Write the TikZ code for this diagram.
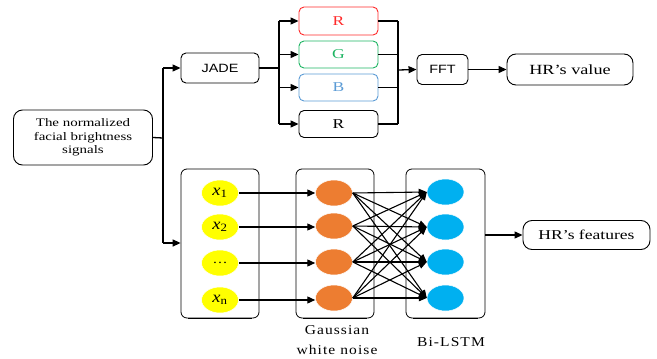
\documentclass[tikz,border=0pt]{standalone}
\usepackage{fontspec}
\setmainfont[FakeStretch=1.3]{Liberation Serif}
\newfontfamily\arialf[FakeStretch=1.2]{Liberation Sans}
\newfontfamily\spacedf[FakeStretch=1.15,LetterSpace=8]{Liberation Serif}
\newfontfamily\xfont[FakeStretch=1.15]{Liberation Serif}
\usetikzlibrary{arrows.meta,shapes.geometric}
\definecolor{cR}{HTML}{FF2A2A}
\definecolor{cG}{HTML}{1DB462}
\definecolor{cB}{HTML}{5B9BD5}
\definecolor{cY}{HTML}{FFFF00}
\definecolor{cO}{HTML}{ED7D31}
\definecolor{cC}{HTML}{00B0F0}
\tikzset{
  box/.style={draw, rounded corners=5pt, minimum height=28pt, inner sep=0pt, line width=0.9pt},
  panel/.style={draw, rounded corners=6pt, line width=0.8pt},
  arr/.style={-{Triangle[length=8pt,width=7pt]}, line width=1.3pt},
  ln/.style={line width=1.3pt},
  nd/.style={ellipse, draw=white, line width=0.5pt, minimum width=37pt, minimum height=26pt, inner sep=0pt},
  yel/.style={nd, fill=cY},
  org/.style={nd, fill=cO},
  cyn/.style={nd, fill=cC},
}
\begin{document}
\begin{tikzpicture}[x=1pt,y=-1pt]
\useasboundingbox (0,0) rectangle (657,359);
% left input
\node[box, rounded corners=9pt, minimum width=139pt, minimum height=55pt, align=center, font=\fontsize{11.5}{13.3}\selectfont] (inp) at (83,137.5) {The normalized\\facial brightness\\signals};
\coordinate (sp) at (163,138);
\coordinate (spt) at (163,68);
\coordinate (spb) at (163,243);
\draw[ln] (inp.east) -- (sp);
\draw[ln] (spt) -- (spb);
% JADE
\node[box, minimum width=78pt, minimum height=30pt, font=\arialf\fontsize{12}{14}\selectfont] (jade) at (220,68) {JADE};
\draw[arr] (spt) -- (jade.west);
% colour boxes
\node[box, draw=cR, text=cR, minimum width=79pt, minimum height=28pt, font=\fontsize{13.5}{15}\selectfont] (r1) at (338.5,21) {R};
\node[box, draw=cG, text=cG, minimum width=79pt, minimum height=27pt, font=\fontsize{13.5}{15}\selectfont] (g) at (338.5,54.5) {G};
\node[box, draw=cB, text=cB, minimum width=79pt, minimum height=27pt, font=\fontsize{13.5}{15}\selectfont] (b) at (338.5,87.5) {B};
\node[box, minimum width=79pt, minimum height=27pt, font=\fontsize{13.5}{15}\selectfont] (r2) at (338.5,124) {R};
\coordinate (jb) at (279,68);
\draw[ln] (jade.east) -- (jb);
\draw[ln] (279,21) -- (279,124);
\foreach \n in {r1,g,b,r2} {\draw[arr] (jb |- \n.west) -- (\n.west);}
\coordinate (mg) at (398,70);
\foreach \n in {r1,g,b,r2} {\draw[ln] (\n.east) -- (mg |- \n.east);}
\draw[ln] (398,21) -- (398,124);
% FFT
\node[box, minimum width=51pt, minimum height=30pt, font=\arialf\fontsize{12}{14}\selectfont] (fft) at (442.5,69.5) {FFT};
\draw[arr] (mg) -- (fft.west);
\node[box, rounded corners=9pt, minimum width=126pt, minimum height=31pt, font=\fontsize{14}{16}\selectfont] (hrv) at (570,69.5) {HR’s value};
\draw[arr] (fft.east) -- (hrv.west);
% panels
\node[panel, minimum width=78pt, minimum height=149pt] (p1) at (220,243.5) {};
\node[panel, minimum width=78pt, minimum height=149pt] (p2) at (335,243.5) {};
\node[panel, minimum width=79pt, minimum height=149pt] (p3) at (445.5,243.5) {};
\draw[line width=1.8pt] (p1.south west)++(7,0) -- ([xshift=-7pt]p1.south east);
\draw[line width=1.8pt] (p2.south west)++(7,0) -- ([xshift=-7pt]p2.south east);
\draw[line width=1.8pt] (p3.south west)++(7,0) -- ([xshift=-7pt]p3.south east);
\draw[arr] (spb) -- (p1.west |- spb);
% yellow
\node[yel, font=\xfont\fontsize{16}{18}\selectfont] (y1) at (220,193) {\textit{x}\textsubscript{1}};
\node[yel, font=\xfont\fontsize{16}{18}\selectfont] (y2) at (220,227) {\textit{x}\textsubscript{2}};
\node[yel, font=\xfont\fontsize{13}{14}\selectfont] (y3) at (220,263) {…};
\node[yel, font=\xfont\fontsize{16}{18}\selectfont] (y4) at (220,300) {\textit{x}\textsubscript{n}};
% orange
\node[org] (o1) at (334,193) {};
\node[org] (o2) at (334,226) {};
\node[org] (o3) at (334,262) {};
\node[org] (o4) at (334,298) {};
% cyan
\node[cyn] (c1) at (445.5,192) {};
\node[cyn] (c2) at (445.5,227) {};
\node[cyn] (c3) at (445.5,262) {};
\node[cyn] (c4) at (445.5,298) {};
\draw[arr] (y1.east) -- (o1.west |- y1.east);
\draw[arr] (y2.east) -- (o2.west |- y2.east);
\draw[arr] (y3.east) -- (o3.west |- y3.east);
\draw[arr] (y4.east) -- (o4.west |- y4.east);
\foreach \i in {1,2,3,4} {
  \foreach \j in {1,2,3,4} {
    \draw[-{Triangle[length=8pt,width=6.5pt]}, line width=1.1pt] (o\i.east) -- (c\j.west);
  }
}
\node[font=\spacedf\fontsize{13.5}{20}\selectfont, align=center] (gl) at (337,340) {Gaussian\\white noise};
\node[font=\spacedf\fontsize{13.5}{15}\selectfont] (bl) at (451,342) {Bi-LSTM};
\node[box, rounded corners=9pt, minimum width=127pt, minimum height=29pt, font=\fontsize{13.5}{15}\selectfont] (hrf) at (586.5,235) {HR’s features};
\draw[arr] (p3.east |- hrf.west) -- (hrf.west);
\end{tikzpicture}
\end{document}
